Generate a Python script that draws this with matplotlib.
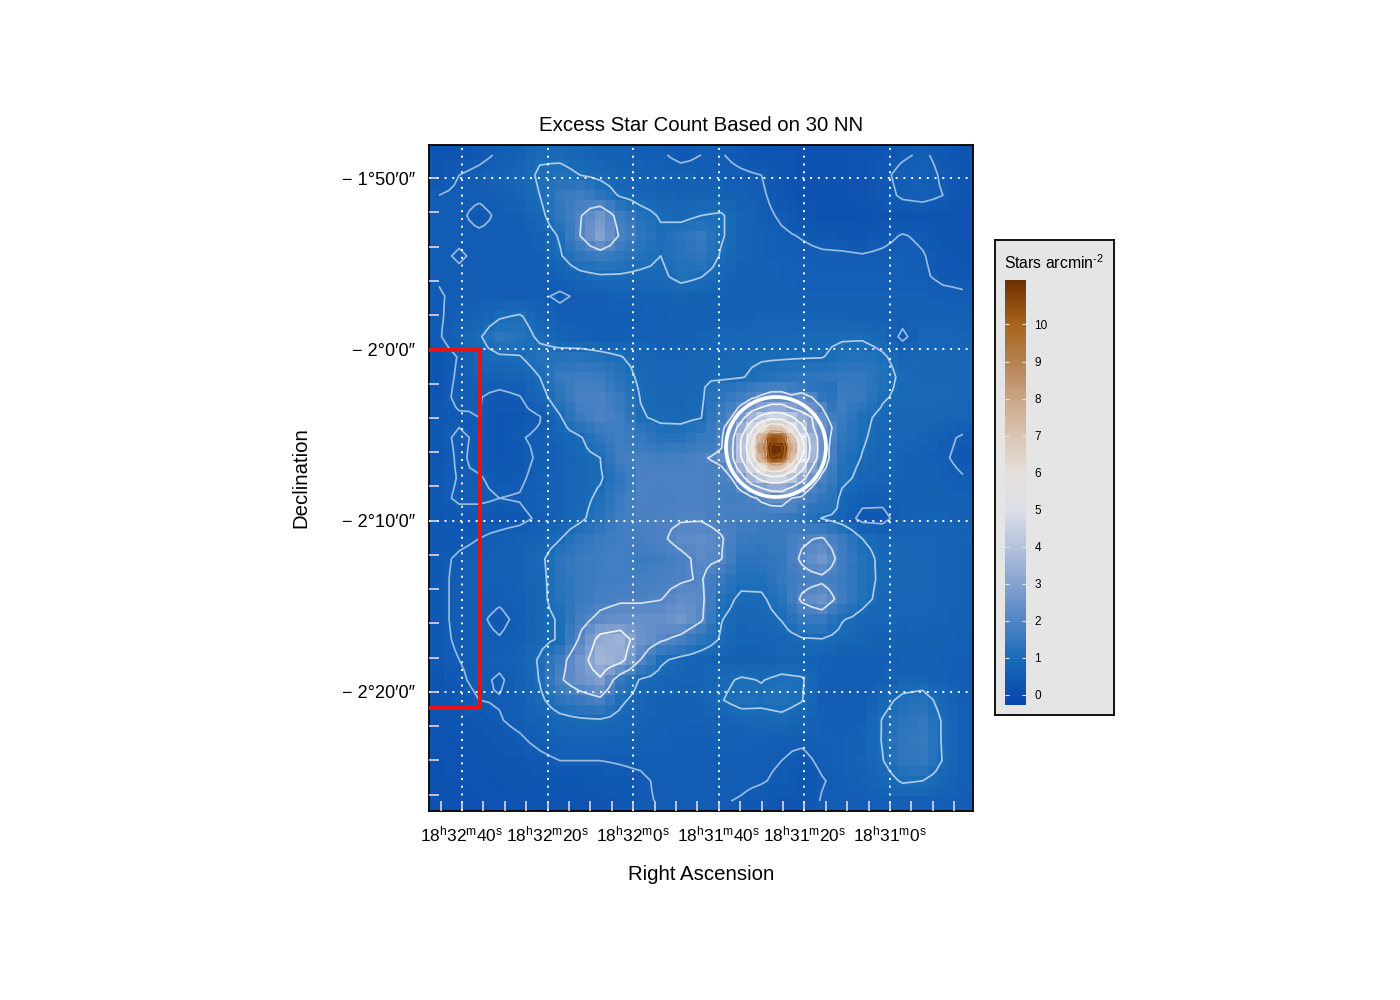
import numpy as np
import matplotlib
matplotlib.use("Agg")
import matplotlib.pyplot as plt
from matplotlib.colors import LinearSegmentedColormap, Normalize
from matplotlib.patches import Ellipse

plt.rcParams['font.family'] = ['Liberation Sans', 'DejaVu Sans']
plt.rcParams['mathtext.fontset'] = 'custom'
plt.rcParams['mathtext.rm'] = 'Liberation Sans'
plt.rcParams['mathtext.default'] = 'rm'

W, H = 1400.0, 1000.0

# RA in seconds east of 18h31m0s, Dec in arcmin
ra_ticks = [100, 80, 60, 40, 20, 0]
ra_labels = ["32", "32", "32", "31", "31", "31"]
ra_secs = ["40", "20", "0", "40", "20", "0"]
dec_ticks = [-110, -120, -130, -140]
dec_labels = ["\u2212 1\u00b050\u20320\u2033", "\u2212 2\u00b00\u20320\u2033", "\u2212 2\u00b010\u20320\u2033", "\u2212 2\u00b020\u20320\u2033"]
cbar_ticks = [0, 1, 2, 3, 4, 5, 6, 7, 8, 9, 10]
contour_levels = [0.5, 1, 2, 3, 4, 5, 6, 7, 8, 9, 10, 11]
contour_colors = ['#96bbe3', '#aecae9', '#d8e2f0', '#f0f1f4', '#f5f5f5', '#f7f5f3', '#f2e9e1',
                  '#dcbea5', '#cc9e77', '#bc7e45', '#a56223', '#8a4a10']

# excess star density, top row first (west on the left)
density = [
 [.3,.3,.4,.55,.7,.95,.9,.8,.7,.65,.6,.55,.4,.5,.52,.4,.3,.25,.2,.2,.2,.25,.35,.45,.55,.4,.3],
 [.35,.5,.6,.7,.85,1.05,1.15,1.0,.9,.75,.7,.65,.65,.62,.6,.55,.5,.3,.2,.2,.2,.25,.42,.6,.65,.45,.3],
 [.5,.55,.55,.6,.8,1.0,1.5,1.7,1.3,.95,.8,.75,.7,.75,.7,.65,.55,.35,.2,.2,.2,.25,.38,.55,.6,.5,.3],
 [.55,.55,.42,.55,.6,.85,1.4,1.95,2.6,1.7,1.2,.95,.85,1.0,1.05,.75,.6,.45,.3,.2,.2,.2,.25,.3,.3,.3,.25],
 [.55,.55,.55,.55,.55,.7,1.05,2.0,3.0,1.9,1.35,1.1,1.3,1.5,1.05,.75,.65,.55,.48,.4,.35,.33,.42,.52,.45,.3,.25],
 [.55,.47,.55,.55,.55,.6,.95,1.4,1.6,1.4,1.2,1.0,1.25,1.4,.95,.72,.65,.6,.58,.55,.55,.52,.55,.6,.52,.38,.3],
 [.52,.55,.55,.55,.55,.55,.65,.85,.95,.95,.9,.9,1.15,1.02,.8,.68,.65,.62,.6,.6,.6,.6,.6,.6,.55,.42,.4],
 [.48,.55,.55,.55,.55,.55,.45,.55,.6,.65,.65,.7,.72,.7,.68,.68,.68,.65,.65,.65,.65,.65,.65,.65,.65,.6,.55],
 [.47,.6,.75,.95,1.05,.75,.6,.55,.55,.55,.6,.62,.65,.65,.68,.7,.72,.72,.72,.72,.72,.7,.7,.65,.7,.7,.65],
 [.47,.7,.95,1.35,1.25,.9,.75,.65,.6,.6,.62,.65,.7,.72,.78,.82,.85,.88,.9,.92,.95,.95,.85,.4,.78,.8,.75],
 [.35,.52,.85,.95,.98,1.2,1.2,1.25,1.15,1.02,.85,.75,.75,.8,.85,.9,.95,.95,.97,.98,1.15,1.2,1.05,.85,.85,.85,.8],
 [.35,.55,.65,.7,.75,1.0,1.5,1.7,1.6,1.25,.9,.8,.78,.85,.9,.97,1.15,1.3,1.35,1.4,1.45,1.45,1.2,.9,.85,.85,.85],
 [.35,.6,.52,.38,.48,.8,1.3,1.85,1.85,1.5,.98,.82,.82,.9,1.0,1.4,1.6,1.8,1.7,1.75,1.65,1.5,1.05,.9,.9,.9,.85],
 [.4,.45,.5,.35,.35,.48,.95,1.6,1.9,1.7,1.05,.9,.88,.98,1.3,1.8,2.0,2.0,1.9,1.85,1.6,1.1,.9,.85,.85,.8,.75],
 [.42,.55,.45,.35,.48,.55,.75,.95,1.4,1.7,1.5,1.25,1.25,1.5,1.9,2.3,3.0,3.0,2.3,1.9,1.4,1.05,.85,.78,.75,.6,.45],
 [.35,.55,.42,.35,.4,.55,.65,.85,1.0,1.7,1.8,1.7,1.75,1.9,2.2,2.6,3.0,3.0,2.4,1.9,1.25,.98,.8,.7,.65,.55,.4],
 [.38,.52,.52,.42,.45,.6,.7,.85,.95,1.35,1.9,1.9,1.9,1.9,1.95,2.2,2.6,2.6,2.2,1.7,1.15,.85,.75,.7,.7,.62,.52],
 [.42,.55,.55,.5,.52,.65,.7,.85,1.1,1.6,1.9,1.85,1.9,1.9,1.85,1.9,1.9,1.85,1.6,1.05,.85,.62,.6,.68,.7,.68,.65],
 [.35,.38,.38,.38,.42,.55,.7,.9,1.25,1.7,1.85,1.9,1.95,1.95,1.8,1.75,1.7,1.6,1.35,.98,.75,.38,.38,.68,.72,.72,.7],
 [.38,.42,.5,.58,.65,.75,.98,1.35,1.6,1.7,1.75,1.9,2.2,2.3,2.05,1.6,1.5,1.6,1.9,2.05,1.6,1.0,.82,.78,.78,.75,.72],
 [.42,.55,.62,.62,.7,.9,1.3,1.6,1.7,1.75,1.6,1.7,1.85,2.15,2.02,1.3,1.35,1.5,2.1,2.6,1.7,1.2,.88,.82,.8,.75,.7],
 [.42,.58,.62,.6,.7,.85,1.3,1.55,1.7,1.7,1.75,1.8,1.92,2.05,1.5,1.15,1.15,1.5,1.75,1.85,1.6,1.2,.9,.82,.8,.75,.7],
 [.42,.58,.6,.55,.62,.85,1.25,1.55,1.75,1.9,1.9,1.98,2.3,2.15,1.2,.9,.92,1.25,2.1,2.5,1.7,1.15,.85,.8,.8,.75,.7],
 [.42,.58,.55,.42,.58,.85,1.05,1.75,2.2,2.4,2.4,2.4,2.6,2.1,1.02,.8,.82,1.02,1.5,1.55,1.03,.85,.78,.75,.75,.72,.68],
 [.42,.55,.58,.52,.62,.85,1.05,2.1,3.3,3.5,2.5,2.1,1.8,1.3,.95,.72,.72,.78,.95,.98,.85,.72,.68,.68,.7,.68,.62],
 [.4,.5,.58,.6,.72,1.05,1.7,2.6,3.6,3.3,2.0,1.1,.85,.75,.68,.68,.68,.75,.72,.62,.58,.55,.58,.65,.65,.62,.58],
 [.3,.45,.58,.45,.65,1.02,1.9,2.5,2.9,1.5,.95,.8,.72,.72,.9,1.05,.98,1.1,1.05,.6,.55,.52,.6,.78,.78,.65,.55],
 [.28,.38,.5,.52,.62,.9,1.3,1.6,1.85,1.1,.8,.7,.68,.72,.98,1.15,1.1,1.15,1.02,.58,.5,.52,.85,1.1,1.2,.82,.58],
 [.28,.32,.38,.48,.58,.7,.85,.92,.95,.85,.75,.68,.62,.65,.7,.8,.85,.9,.8,.6,.55,.6,1.02,1.3,1.45,.95,.6],
 [.25,.28,.3,.38,.45,.58,.68,.72,.72,.7,.68,.62,.58,.58,.6,.62,.6,.55,.55,.6,.6,.7,1.02,1.4,1.5,.95,.6],
 [.22,.25,.28,.3,.35,.42,.5,.5,.5,.52,.55,.58,.58,.58,.58,.58,.55,.5,.42,.56,.62,.72,.98,1.35,1.45,.98,.6],
 [.22,.22,.25,.28,.3,.32,.35,.35,.38,.42,.45,.55,.55,.55,.55,.55,.52,.45,.32,.48,.58,.65,.8,1.05,1.0,.8,.6],
 [.2,.2,.22,.25,.25,.28,.3,.3,.32,.38,.46,.52,.52,.52,.52,.48,.4,.35,.35,.52,.55,.58,.6,.62,.62,.6,.55],
]

# the central cluster on a finer mesh, half the spacing of the table above
core = [
 [1.2,1.25,1.3,1.4,1.5,1.65,1.75,1.75,1.65,1.5,1.35,1.25,1.2],
 [1.25,1.35,1.5,1.7,1.9,2.1,2.3,2.3,2.1,2.4,2.0,1.4,1.3],
 [1.3,1.5,1.75,2.1,2.6,3.0,3.3,3.3,2.9,2.7,2.4,2.0,1.4],
 [1.4,1.65,2.0,2.7,3.6,4.3,4.7,4.6,4.1,3.4,3.0,2.4,1.7],
 [1.5,1.8,2.5,3.4,4.6,6.0,6.8,6.6,5.5,4.3,3.1,2.5,2.0],
 [1.55,1.9,2.7,4.0,5.5,7.5,10.5,10.2,7.0,5.0,3.6,2.5,1.9],
 [1.7,1.95,2.8,4.1,6.0,8.3,11.3,11.2,7.7,5.5,3.7,2.5,1.8],
 [2.05,2.4,2.8,4.0,5.5,7.5,11.0,10.8,7.0,5.0,3.6,2.5,1.8],
 [1.85,1.9,2.5,3.4,4.6,6.0,6.8,6.6,5.5,4.3,3.0,2.2,1.7],
 [1.85,1.85,2.0,2.7,3.6,4.3,4.7,4.6,4.1,3.3,2.5,1.85,1.6],
 [1.85,1.8,1.8,2.1,2.6,3.0,3.3,3.3,2.9,2.5,1.95,1.65,1.4],
 [1.85,1.75,1.7,1.75,1.9,2.1,2.3,2.4,2.0,1.9,1.65,1.4,1.3],
 [1.85,1.8,1.8,1.8,1.8,1.85,1.9,1.9,1.85,1.6,1.35,1.25,1.2],
]

cmap_values = [-0.27, 0, 1, 2, 3, 4, 5, 6, 7, 8, 9, 10, 11.2]
cmap_colors = ['#0648ae', '#0a4cb0', '#1a6db8', '#5285c5', '#86a2d0', '#b5c2dd', '#dcdfe8',
               '#e5e0da', '#d9c4b3', '#c9a688', '#b68150', '#a8641c', '#6e3000']


def px_x(px):
    return (890.0 - px) / 4.28


def px_y(py):
    return -110.0 - (py - 178.0) / 17.13


def px_axes(x0, y0, x1, y1):
    return [x0 / W, 1 - y1 / H, (x1 - x0) / W, (y1 - y0) / H]


def refine(grid):
    # double the mesh so the core table can be dropped in
    rows, cols = grid.shape
    out = np.array([np.interp(np.arange(0, cols - 0.5, 0.5), np.arange(cols), r) for r in grid])
    out = np.array([np.interp(np.arange(0, rows - 0.5, 0.5), np.arange(rows), c) for c in out.T]).T
    return out


fine = refine(np.array(density))
fine[23:36, 27:40] = np.array(core)

xs = px_x(np.linspace(439, 963, fine.shape[1]))
ys = px_y(np.linspace(155, 801, fine.shape[0]))
dx = xs[1] - xs[0]
dy = ys[1] - ys[0]
xs_pad = np.concatenate([[xs[0] - dx], xs, [xs[-1] + dx]])
ys_pad = np.concatenate([[ys[0] - dy], ys, [ys[-1] + dy]])

vmin, vmax = cmap_values[0], cmap_values[-1]
stops = [(v - vmin) / (vmax - vmin) for v in cmap_values]
cmap = LinearSegmentedColormap.from_list('stars', list(zip(stops, cmap_colors)))
norm = Normalize(vmin, vmax)

fig = plt.figure(figsize=(14, 10), dpi=100, facecolor='white')
ax = fig.add_axes(px_axes(429, 145, 973, 811))

mesh = ax.pcolormesh(xs_pad, ys_pad, np.pad(fine, 1, mode='edge'), cmap=cmap, norm=norm, shading='nearest')
ax.contour(xs, ys, fine, levels=contour_levels, colors=contour_colors, linewidths=1.25)

ax.set_xlim(px_x(429), px_x(973))
ax.set_ylim(px_y(811), px_y(145))

ax.set_xticks(ra_ticks)
ax.set_xticklabels(["18$^{h}$%s$^{m}$%s$^{s}$" % (m, s) for m, s in zip(ra_labels, ra_secs)], fontsize=12.4)
ax.set_xticks(np.arange(-15, 106, 5), minor=True)
ax.set_yticks(dec_ticks)
ax.set_yticklabels(dec_labels, fontsize=13.1)
ax.set_yticks(np.arange(-146, -109, 2), minor=True)
ax.tick_params(which='both', direction='in', length=7.5, width=1.1, color='#f4dfe8')
ax.tick_params(axis='x', which='both', pad=10)
ax.tick_params(axis='y', which='both', pad=10)
ax.grid(True, which='major', color='white', linestyle=(0, (1, 3)), linewidth=1.4)
ax.set_axisbelow(False)
for s in ax.spines.values():
    s.set_linewidth(1.3)
    s.set_color('black')

ax.set_title("Excess Star Count Based on 30 NN", fontsize=14.7, pad=10)
ax.set_xlabel("Right Ascension", fontsize=14.7, labelpad=14.5)
ax.set_ylabel("Declination", fontsize=14.7, labelpad=23)

# cluster aperture and the off-field box
ax.add_patch(Ellipse((px_x(776), px_y(447)), 100 / 4.28, 100 / 17.13, fill=False, edgecolor='white', linewidth=2.7, zorder=5))
ax.plot([px_x(429), px_x(480), px_x(480), px_x(429)], [px_y(350), px_y(350), px_y(708), px_y(708)],
        color='#f01010', linewidth=2.8, zorder=6, solid_joinstyle='miter')

# colour bar panel
panel = fig.add_axes(px_axes(995, 240, 1114, 715))
panel.set_facecolor('#e5e5e5')
panel.set_xticks([])
panel.set_yticks([])
for s in panel.spines.values():
    s.set_linewidth(1.3)
panel.text(9 / 119, 1 - 23 / 475, "Stars arcmin$^{\u20102}$", transform=panel.transAxes, fontsize=11.3, ha='left', va='center')

cax = fig.add_axes(px_axes(1005, 280, 1026, 705))
cb = fig.colorbar(mesh, cax=cax)
cb.outline.set_visible(False)
cb.set_ticks(cbar_ticks)
cax.tick_params(which='major', direction='in', length=3, width=0.8, color='#f0e8e0', left=True, right=True,
                labelsize=8.5, pad=6)
cax.minorticks_off()

fig.savefig("out.png", dpi=100)
